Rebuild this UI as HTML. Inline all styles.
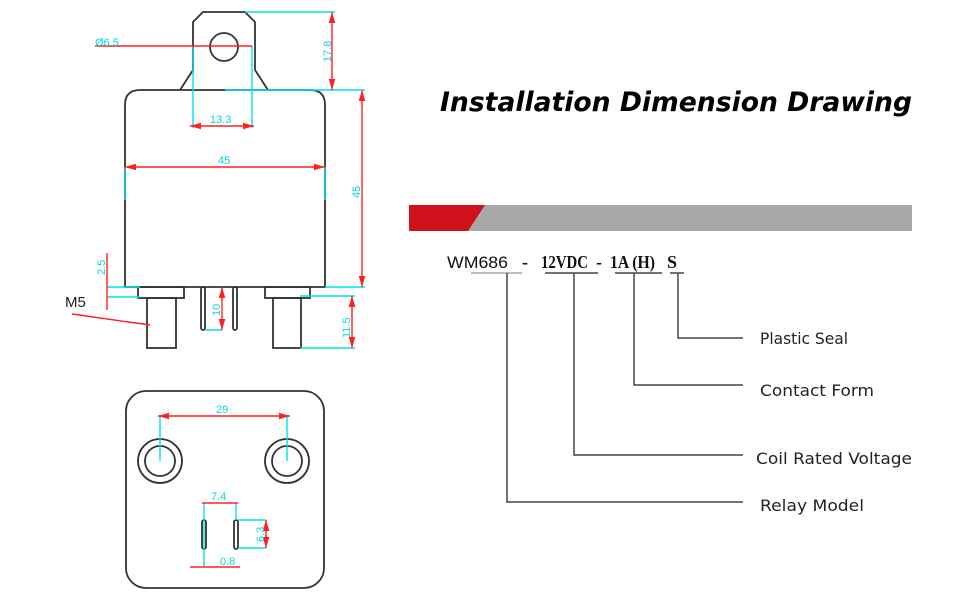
<!DOCTYPE html>
<html><head><meta charset="utf-8"><style>
html,body{margin:0;padding:0;background:#fff;width:970px;height:600px;overflow:hidden}
svg{display:block}
.d{font-family:"Liberation Sans",sans-serif;font-size:11px;fill:#00d8e0}
.l{font-family:"DejaVu Sans","Liberation Sans",sans-serif;font-size:16px;fill:#222}
</style></head><body>
<svg width="970" height="600" viewBox="0 0 970 600" xmlns="http://www.w3.org/2000/svg">
<defs>
<marker id="a" viewBox="0 0 10 6" refX="10" refY="3" markerWidth="8" markerHeight="5" orient="auto-start-reverse"><path d="M0,0 L10,3 L0,6 Z" fill="#ff2020"/></marker>
</defs>
<g fill="none" stroke="#333" stroke-width="1.8">
<path d="M180,90 L193,70 L193,22 L203,12 L245,12 L255,22 L255,70 L268,90"/>
<circle cx="224" cy="47" r="14"/>
<path d="M125,287 L125,105 Q125,90 140,90 L310,90 Q325,90 325,105 L325,287 Z"/>
<rect x="138" y="287" width="46" height="11"/>
<rect x="147" y="298" width="29" height="50"/>
<rect x="265" y="287" width="45" height="11"/>
<rect x="273" y="298" width="28" height="50"/>
<rect x="201" y="287" width="4" height="43" rx="2"/>
<rect x="233" y="287" width="4" height="43" rx="2"/>
<rect x="126" y="391" width="198" height="197" rx="20"/>
<circle cx="160" cy="461" r="22"/><circle cx="160" cy="461" r="15"/>
<circle cx="287" cy="461" r="22"/><circle cx="287" cy="461" r="15"/>
<rect x="202" y="520" width="4" height="29" rx="2"/>
<rect x="234" y="520" width="4" height="29" rx="2"/>
</g>
<g stroke="#00e0e8" stroke-width="1.4" fill="none">
<line x1="245" y1="12" x2="335" y2="12"/>
<line x1="225" y1="90" x2="365" y2="90"/>
<line x1="325" y1="287" x2="365" y2="287"/>
<line x1="193" y1="46" x2="193" y2="128"/>
<line x1="252" y1="46" x2="252" y2="128"/>
<line x1="125" y1="167" x2="125" y2="200"/>
<line x1="325" y1="167" x2="325" y2="200"/>
<line x1="107" y1="287" x2="140" y2="287"/>
<line x1="107" y1="297" x2="140" y2="297"/>
<line x1="205" y1="330" x2="222" y2="330"/>
<line x1="300" y1="296" x2="355" y2="296"/>
<line x1="300" y1="348" x2="355" y2="348"/>
<line x1="160" y1="416" x2="160" y2="461"/>
<line x1="287" y1="416" x2="287" y2="461"/>
<line x1="204" y1="503" x2="204" y2="567"/>
<line x1="236" y1="503" x2="236" y2="520"/>
<line x1="238" y1="520" x2="266" y2="520"/>
<line x1="238" y1="548" x2="266" y2="548"/>
</g>
<g stroke="#ff2020" stroke-width="1.4" fill="none">
<line x1="332" y1="12" x2="332" y2="90" marker-start="url(#a)" marker-end="url(#a)"/>
<line x1="362" y1="90" x2="362" y2="287" marker-start="url(#a)" marker-end="url(#a)"/>
<line x1="95" y1="46" x2="252" y2="46"/>
<line x1="190" y1="126" x2="254" y2="126" marker-start="url(#a)" marker-end="url(#a)"/>
<line x1="125" y1="167" x2="325" y2="167" marker-start="url(#a)" marker-end="url(#a)"/>
<line x1="107" y1="253" x2="107" y2="310"/>
<line x1="222" y1="287" x2="222" y2="330" marker-start="url(#a)" marker-end="url(#a)"/>
<line x1="352" y1="296" x2="352" y2="348" marker-start="url(#a)" marker-end="url(#a)"/>
<line x1="72" y1="314" x2="150" y2="325"/>
<line x1="158" y1="416" x2="290" y2="416" marker-start="url(#a)" marker-end="url(#a)"/>
<line x1="202" y1="503" x2="238" y2="503"/>
<line x1="266" y1="520" x2="266" y2="548" marker-start="url(#a)" marker-end="url(#a)"/>
<line x1="190" y1="567" x2="240" y2="567"/>
</g>
<text class="d" x="95" y="46">Ø6.5</text>
<text class="d" x="210" y="123">13.3</text>
<text class="d" x="218" y="164">45</text>
<text class="d" transform="translate(331,62) rotate(-90)">17.8</text>
<text class="d" transform="translate(360,198) rotate(-90)">45</text>
<text class="d" transform="translate(105,275) rotate(-90)">2.5</text>
<text class="d" transform="translate(220,316) rotate(-90)">10</text>
<text class="d" transform="translate(350,338) rotate(-90)">11.5</text>
<text class="d" x="216" y="413">29</text>
<text class="d" x="211" y="500">7.4</text>
<text class="d" transform="translate(264,542) rotate(-90)">6.3</text>
<text class="d" x="220" y="565">0.8</text>
<text x="65" y="307" font-family="Liberation Sans,sans-serif" font-size="15" fill="#222">M5</text>
<text x="440" y="111" font-family="DejaVu Sans,Liberation Sans,sans-serif" font-weight="bold" font-style="italic" font-size="27" fill="#000" textLength="472" lengthAdjust="spacingAndGlyphs">Installation Dimension Drawing</text>
<rect x="409" y="205" width="503" height="26" fill="#a8a8a8"/>
<polygon points="409,205 485,205 468,231 409,231" fill="#d0101a"/>
<text x="447" y="268" font-family="Liberation Sans,sans-serif" font-size="17" fill="#111" textLength="61" lengthAdjust="spacingAndGlyphs">WM686</text>
<g font-family="Liberation Serif,serif" font-weight="bold" font-size="18" fill="#111">
<text x="522" y="268">-</text>
<text x="541" y="268" textLength="47" lengthAdjust="spacingAndGlyphs">12VDC</text>
<text x="596" y="268">-</text>
<text x="610" y="268" textLength="45" lengthAdjust="spacingAndGlyphs">1A (H)</text>
<text x="667" y="268">S</text>
</g>
<g stroke="#444" stroke-width="1.5" fill="none">
<line x1="471" y1="273" x2="522" y2="273" stroke="#aaa"/>
<line x1="545" y1="273" x2="598" y2="273"/>
<line x1="615" y1="273" x2="662" y2="273"/>
<line x1="670" y1="273" x2="684" y2="273"/>
<polyline points="507,273 507,502 743,502"/>
<polyline points="574,273 574,455 743,455"/>
<polyline points="634,273 634,385 743,385"/>
<polyline points="678,273 678,338 743,338"/>
</g>
<text class="l" x="760" y="344" textLength="88" lengthAdjust="spacingAndGlyphs">Plastic Seal</text>
<text class="l" x="760" y="396" textLength="114" lengthAdjust="spacingAndGlyphs">Contact Form</text>
<text class="l" x="756" y="464" textLength="156" lengthAdjust="spacingAndGlyphs">Coil Rated Voltage</text>
<text class="l" x="760" y="511" textLength="104" lengthAdjust="spacingAndGlyphs">Relay Model</text>
</svg>
</body></html>
